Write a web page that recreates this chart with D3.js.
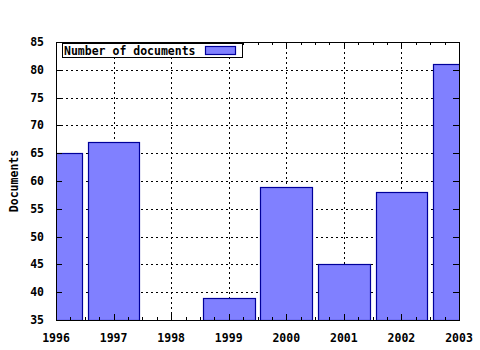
<!DOCTYPE html>
<html>
<head>
<meta charset="utf-8">
<script src="https://cdn.jsdelivr.net/npm/d3@7"></script>
<style>
  body { margin: 0; background: #fff; }
  text { font-family: "DejaVu Sans Mono", monospace; font-weight: bold; font-size: 11.5px; fill: #000; }
</style>
</head>
<body>
<svg id="chart" width="480" height="350"></svg>
<script>
// values
const years = [1996, 1997, 1998, 1999, 2000, 2001, 2002, 2003];
const documents = [65, 67, 35, 39, 59, 45, 58, 81];
const yTicks = [35, 40, 45, 50, 55, 60, 65, 70, 75, 80, 85];
const seriesName = 'Number of documents';

const svg = d3.select('#chart');
const margin = { top: 42, right: 21, bottom: 30, left: 56 };
const width = 480 - margin.left - margin.right;
const height = 350 - margin.top - margin.bottom;

const x = d3.scaleLinear().domain([1996, 2003]).range([0, width]);
const y = d3.scaleLinear().domain([35, 85]).range([height, 0]);

svg.append('defs').append('clipPath').attr('id', 'clip')
  .append('rect').attr('width', width).attr('height', height);

const g = svg.append('g').attr('transform', `translate(${margin.left},${margin.top})`);

// grid
const grid = g.append('g').attr('stroke', '#000').attr('stroke-dasharray', '2,3').attr('stroke-width', 1);
grid.selectAll('.gx').data(years.slice(1, -1)).enter().append('line')
  .attr('x1', d => Math.round(x(d)) + 0.5).attr('x2', d => Math.round(x(d)) + 0.5)
  .attr('y1', 0).attr('y2', height);
grid.selectAll('.gy').data(yTicks.slice(1, -1)).enter().append('line')
  .attr('y1', d => Math.round(y(d)) + 0.5).attr('y2', d => Math.round(y(d)) + 0.5)
  .attr('x1', 0).attr('x2', width);

// bars
const boxWidth = 0.9;
g.append('g').attr('clip-path', 'url(#clip)')
  .selectAll('.bar')
  .data(years.map((yr, i) => ({ year: yr, value: documents[i] })))
  .enter().append('rect')
  .attr('class', 'bar')
  .attr('x', d => Math.round(x(d.year - boxWidth / 2)) + 0.5)
  .attr('width', d => Math.round(x(d.year + boxWidth / 2)) - Math.round(x(d.year - boxWidth / 2)))
  .attr('y', d => Math.round(y(d.value)) + 0.5)
  .attr('height', d => Math.max(0, Math.round(height - y(d.value))))
  .attr('fill', '#8080ff')
  .attr('stroke', '#00009a')
  .attr('stroke-width', 1.2);

// axes with major + minor ticks, mirrored
const minorX = d3.range(1996, 2003.01, 0.25).filter(v => Math.abs(v - Math.round(v)) > 0.01);

const tickLayer = g.append('g').attr('stroke', '#000').attr('stroke-width', 1);
years.forEach(v => {
  const px = Math.round(x(v)) + 0.5;
  tickLayer.append('line').attr('x1', px).attr('x2', px).attr('y1', height).attr('y2', height - 6);
  tickLayer.append('line').attr('x1', px).attr('x2', px).attr('y1', 0).attr('y2', 6);
});
minorX.forEach(v => {
  const px = Math.round(x(v)) + 0.5;
  tickLayer.append('line').attr('x1', px).attr('x2', px).attr('y1', height).attr('y2', height - 3);
  tickLayer.append('line').attr('x1', px).attr('x2', px).attr('y1', 0).attr('y2', 3);
});
yTicks.forEach(v => {
  const py = Math.round(y(v)) + 0.5;
  tickLayer.append('line').attr('x1', 0).attr('x2', 6).attr('y1', py).attr('y2', py);
  tickLayer.append('line').attr('x1', width).attr('x2', width - 6).attr('y1', py).attr('y2', py);
});

// border
g.append('rect').attr('x', 0.5).attr('y', 0.5).attr('width', width).attr('height', height)
  .attr('fill', 'none').attr('stroke', '#000').attr('stroke-width', 1);

// tick labels
g.selectAll('.xl').data(years).enter().append('text')
  .attr('x', d => x(d)).attr('y', height + 22)
  .attr('text-anchor', 'middle').text(d => d);
g.selectAll('.yl').data(yTicks).enter().append('text')
  .attr('x', -12).attr('y', d => y(d) + 4)
  .attr('text-anchor', 'end').text(d => d);

// y label
svg.append('text')
  .attr('transform', `translate(18,${margin.top + height / 2}) rotate(-90)`)
  .attr('text-anchor', 'middle').text('Documents');

// legend
const lg = g.append('g').attr('transform', 'translate(6,0)');
lg.append('rect').attr('x', 0.5).attr('y', 1.5).attr('width', 180).attr('height', 14)
  .attr('fill', '#fff').attr('stroke', '#000');
lg.append('text').attr('x', 2).attr('y', 12.5).text(seriesName);
lg.append('rect').attr('x', 143.5).attr('y', 4.5).attr('width', 30).attr('height', 8)
  .attr('fill', '#8080ff').attr('stroke', '#00009a').attr('stroke-width', 1.2);
</script>
</body>
</html>
